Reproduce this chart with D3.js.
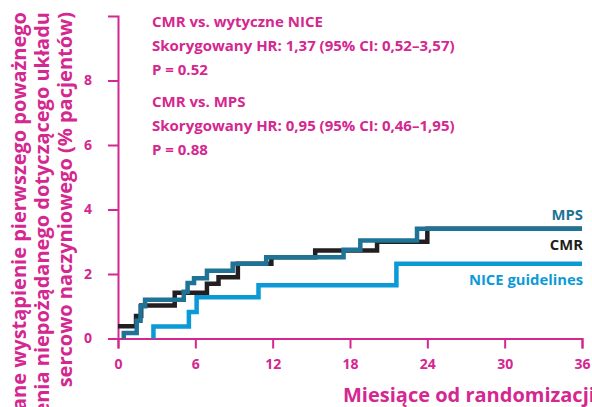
<!DOCTYPE html>
<html>
<head>
<meta charset="utf-8">
<script src="https://cdn.jsdelivr.net/npm/d3@7"></script>
<style>
  html, body { margin: 0; padding: 0; background: #fff; overflow: hidden; }
  svg { display: block; }
  text { font-family: "Open Sans", Lato, sans-serif; font-weight: 700; }
</style>
</head>
<body>
<svg id="chart" width="592" height="407"></svg>
<script>
// Kaplan–Meier style cumulative incidence (% of patients) by month since randomisation
const cmrMonths  = [0, 1.4, 1.8, 4.4, 6.9, 7.8, 9.3, 11.9, 15.3, 20.1, 24.0, 36];
const cmrPct     = [0.38, 0.7, 1.02, 1.42, 1.7, 1.9, 2.32, 2.52, 2.73, 3.0, 3.4, 3.4];

const mpsMonths  = [0.45, 0.45, 1.45, 1.75, 2.1, 5.1, 5.4, 5.9, 6.9, 8.9, 11.5, 17.5, 18.8, 23.2, 36];
const mpsPct     = [0, 0.17, 0.55, 1.0, 1.2, 1.45, 1.72, 1.87, 2.1, 2.32, 2.52, 2.75, 3.04, 3.4, 3.4];

const niceMonths = [2.75, 2.75, 5.5, 6.1, 10.9, 21.6, 36];
const nicePct    = [0, 0.37, 0.82, 1.28, 1.65, 2.32, 2.32];

const xTicks = [0, 6, 12, 18, 24, 30, 36];
const yTicks = [0, 2, 4, 6, 8];

const seriesNames  = ["NICE guidelines", "CMR", "MPS"];
const seriesColors = ["#0b9ad6", "#231f20", "#1e7396"];

const yTitleLines = [
  "Skumulowane wystąpienie pierwszego poważnego",
  "zdarzenia niepożądanego dotyczącego układu",
  "sercowo naczyniowego (% pacjentów)"
];
const xTitle = "Miesiące od randomizacji";

const statLines = [
  ["CMR vs. wytyczne NICE", "Skorygowany HR: 1,37 (95% CI: 0,52–3,57)", "P = 0.52"],
  ["CMR vs. MPS", "Skorygowany HR: 0,95 (95% CI: 0,46–1,95)", "P = 0.88"]
];

const pink = "#d4278f";

const svg = d3.select("#chart");
const x = d3.scaleLinear().domain([0, 36]).range([118, 582]);
const y = d3.scaleLinear().domain([0, 10]).range([338.5, 16]);

// Axes
const xAxis = d3.axisBottom(x).tickValues(xTicks).tickSize(10).tickPadding(11);
const yAxis = d3.axisLeft(y).tickValues(yTicks).tickSize(10).tickPadding(16);

const gx = svg.append("g").attr("transform", `translate(0,${y(0)})`).call(xAxis);
const gy = svg.append("g").attr("transform", `translate(${x(0)},0)`).call(yAxis);

[gx, gy].forEach(g => {
  g.selectAll("path.domain").attr("stroke", pink).attr("stroke-width", 2);
  g.selectAll(".tick line").attr("stroke", pink).attr("stroke-width", 2);
  g.selectAll(".tick text").attr("fill", pink).attr("font-size", 14)
    .attr("font-family", "'Open Sans', sans-serif").attr("font-weight", 700);
});

// Step curves
const line = d3.line()
  .x(d => x(d[0]))
  .y(d => y(d[1]))
  .curve(d3.curveStepAfter);

const seriesData = [
  d3.zip(niceMonths, nicePct),
  d3.zip(cmrMonths, cmrPct),
  d3.zip(mpsMonths, mpsPct)
];

svg.append("g").selectAll("path")
  .data(seriesData)
  .join("path")
  .attr("d", line)
  .attr("fill", "none")
  .attr("stroke", (d, i) => seriesColors[i])
  .attr("stroke-width", 4.5)
  .attr("stroke-linejoin", "miter")
  .attr("stroke-linecap", "butt");

// End-of-line labels
const labelY = [285, 250, 220];
svg.append("g").selectAll("text")
  .data(seriesNames)
  .join("text")
  .attr("x", 583)
  .attr("y", (d, i) => labelY[i])
  .attr("text-anchor", "end")
  .attr("font-size", 14.8)
  .attr("fill", (d, i) => seriesColors[i])
  .text(d => d);

// Hazard ratio annotations
const statBaselines = [[27, 51, 75], [107, 131, 155]];
const stats = svg.append("g").attr("fill", pink).attr("font-size", 15);
statLines.forEach((block, b) => {
  block.forEach((txt, j) => {
    stats.append("text").attr("x", 152).attr("y", statBaselines[b][j]).text(txt);
  });
});

// Axis titles
svg.append("text")
  .attr("x", 343).attr("y", 402)
  .attr("font-size", 20).attr("fill", pink)
  .text(xTitle);

const yTitle = svg.append("g").attr("fill", pink).attr("font-size", 20);
const yTitleX = [26, 49, 72];
yTitleLines.forEach((txt, i) => {
  yTitle.append("text")
    .attr("transform", `translate(${yTitleX[i]},12) rotate(-90)`)
    .attr("text-anchor", "end")
    .text(txt);
});
</script>
</body>
</html>
